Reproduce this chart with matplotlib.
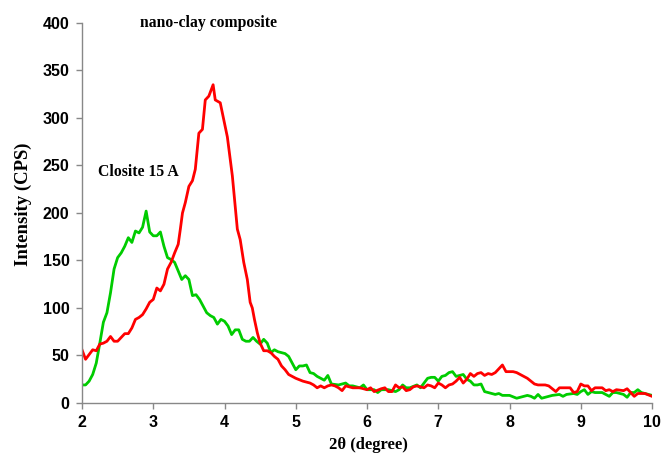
import matplotlib.pyplot as plt

# XRD scans, 2theta (degree) vs intensity (CPS)
clay_x = [2.0, 2.05, 2.1, 2.15, 2.2, 2.25, 2.3, 2.35, 2.4, 2.45, 2.5, 2.55, 2.6, 2.65, 2.7,
          2.75, 2.8, 2.85, 2.9, 2.95, 3.0, 3.05, 3.1, 3.15, 3.2, 3.25, 3.3, 3.35, 3.4, 3.45,
          3.5, 3.55, 3.6, 3.65, 3.7, 3.75, 3.8, 3.85, 3.9, 3.95, 4.0, 4.05, 4.1, 4.15, 4.2,
          4.25, 4.3, 4.35, 4.4, 4.45, 4.5, 4.55, 4.6, 4.65, 4.7, 4.75, 4.8, 4.85, 4.9, 4.95,
          5.0, 5.05, 5.1, 5.15, 5.2, 5.25, 5.3, 5.35, 5.4, 5.45, 5.5, 5.6, 5.7, 5.75, 5.8,
          5.9, 5.95, 6.0, 6.1, 6.15, 6.2, 6.3, 6.4, 6.45, 6.5, 6.55, 6.6, 6.7, 6.75, 6.8,
          6.85, 6.9, 6.95, 7.0, 7.05, 7.1, 7.15, 7.2, 7.25, 7.3, 7.35, 7.4, 7.45, 7.5, 7.55,
          7.6, 7.65, 7.7, 7.8, 7.85, 7.9, 8.0, 8.1, 8.2, 8.25, 8.3, 8.35, 8.4, 8.45, 8.5,
          8.6, 8.7, 8.75, 8.8, 8.9, 8.95, 9.0, 9.05, 9.1, 9.15, 9.2, 9.3, 9.35, 9.4, 9.45,
          9.5, 9.6, 9.65, 9.7, 9.75, 9.8, 9.85, 9.9, 10.0]
clay_y = [19, 19, 23, 30, 42, 63, 85, 95, 116, 141, 153, 158, 165, 174, 169,
          181, 179, 185, 202, 180, 176, 176, 180, 165, 153, 151, 148, 139, 130, 134,
          130, 113, 114, 109, 102, 95, 92, 90, 83, 88, 86, 81, 72, 77, 77,
          67, 65, 65, 69, 65, 62, 67, 63, 53, 56, 54, 53, 52, 49, 42,
          35, 39, 39, 40, 32, 31, 28, 26, 24, 29, 20, 19, 21, 18, 18,
          16, 19, 14, 14, 11, 14, 14, 12, 14, 19, 16, 16, 19, 16, 21,
          26, 27, 27, 23, 28, 29, 32, 33, 28, 29, 30, 25, 23, 19, 19,
          20, 12, 11, 9, 10, 8, 8, 5, 7, 8, 7, 5, 9, 5, 6,
          8, 9, 7, 9, 10, 9, 12, 14, 9, 12, 11, 11, 9, 7, 11,
          11, 9, 6, 11, 11, 14, 11, 10, 8]

comp_x = [2.0, 2.05, 2.1, 2.15, 2.2, 2.25, 2.3, 2.35, 2.4, 2.45, 2.5, 2.55, 2.6, 2.65, 2.7,
          2.75, 2.8, 2.85, 2.9, 2.95, 3.0, 3.05, 3.1, 3.15, 3.2, 3.25, 3.3, 3.35, 3.38, 3.41,
          3.45, 3.5, 3.55, 3.59, 3.64, 3.69, 3.73, 3.78, 3.84, 3.87, 3.94, 4.04, 4.11, 4.18,
          4.22, 4.27, 4.32, 4.36, 4.39, 4.42, 4.46, 4.5, 4.55, 4.6, 4.65, 4.7, 4.75, 4.8,
          4.85, 4.9, 4.95, 5.0, 5.1, 5.2, 5.25, 5.3, 5.35, 5.4, 5.45, 5.5, 5.55, 5.6, 5.65,
          5.7, 5.8, 5.9, 6.0, 6.05, 6.1, 6.2, 6.25, 6.3, 6.35, 6.4, 6.45, 6.5, 6.55, 6.6,
          6.65, 6.7, 6.8, 6.85, 6.9, 6.95, 7.0, 7.05, 7.1, 7.15, 7.2, 7.25, 7.3, 7.35, 7.4,
          7.45, 7.5, 7.55, 7.6, 7.65, 7.7, 7.75, 7.8, 7.85, 7.9, 7.95, 8.0, 8.05, 8.1, 8.15,
          8.2, 8.25, 8.3, 8.35, 8.4, 8.5, 8.55, 8.6, 8.65, 8.7, 8.8, 8.85, 8.9, 8.95, 9.0,
          9.05, 9.1, 9.15, 9.2, 9.3, 9.35, 9.4, 9.45, 9.5, 9.6, 9.65, 9.7, 9.75, 9.8, 9.9,
          10.0]
comp_y = [56, 46, 51, 56, 55, 62, 63, 65, 70, 65, 65, 69, 73, 73, 79,
          88, 90, 93, 99, 106, 109, 121, 118, 125, 141, 148, 158, 167, 183, 200,
          211, 228, 234, 246, 284, 288, 319, 323, 335, 319, 316, 280, 239, 183,
          172, 148, 130, 106, 100, 88, 74, 63, 55, 55, 53, 49, 46, 39,
          35, 30, 28, 26, 23, 21, 19, 16, 18, 16, 18, 19, 18, 16, 13,
          18, 16, 16, 14, 16, 12, 15, 16, 12, 12, 19, 16, 17, 13, 14,
          17, 18, 16, 19, 18, 16, 21, 19, 16, 19, 20, 23, 27, 21, 25,
          31, 28, 31, 32, 29, 31, 30, 32, 36, 40, 33, 33, 33, 32, 30,
          28, 26, 23, 20, 19, 19, 18, 15, 12, 16, 16, 16, 11, 12, 20,
          18, 18, 13, 16, 16, 13, 14, 12, 14, 13, 15, 11, 7, 10, 10,
          7]

fig = plt.figure(figsize=(6.64, 4.55), dpi=100)
ax = fig.add_axes([0.1235, 0.1143, 0.8585, 0.8352])

ax.plot(clay_x, clay_y, color="#00cc00", lw=2.0)
ax.plot(comp_x, comp_y, color="#ff0000", lw=2.0)

ax.set_xlim(2, 10)
ax.set_ylim(0, 400)
ax.set_xticks(range(2, 11))
ax.set_yticks(range(0, 401, 50))

for s in ["top", "right"]:
    ax.spines[s].set_visible(False)
for s in ["left", "bottom"]:
    ax.spines[s].set_color("#888888")
    ax.spines[s].set_linewidth(1.0)
ax.tick_params(direction="out", length=4, width=1, color="#888888", pad=5)
for lab in ax.get_xticklabels() + ax.get_yticklabels():
    lab.set_fontfamily("Liberation Sans")
    lab.set_fontweight("bold")
    lab.set_fontsize(11.5)

ax.set_xlabel("2θ (degree)", fontfamily="Liberation Serif", fontweight="bold",
              fontsize=12)
ax.set_ylabel("Intensity (CPS)", fontfamily="Liberation Serif", fontweight="bold",
              fontsize=13.5)
ax.xaxis.set_label_coords(0.502, -0.1105)
ax.yaxis.set_label_coords(-0.1035, 0.524)
ax.xaxis.label.set_va("center")
ax.yaxis.label.set_va("center")

ax.text(3.77, 400, "nano-clay composite", ha="center", va="center",
        fontfamily="Liberation Serif", fontweight="bold", fontsize=11.3)
ax.text(2.79, 243, "Closite 15 A", ha="center", va="center",
        fontfamily="Liberation Serif", fontweight="bold", fontsize=11.3)

fig.savefig("out.png", dpi=100)
